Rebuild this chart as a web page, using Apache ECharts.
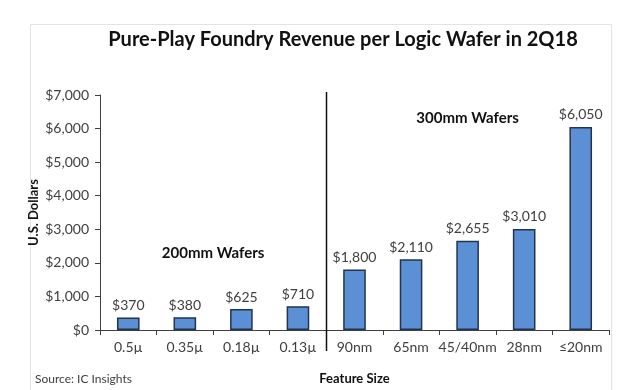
<!DOCTYPE html>
<html>
<head>
<meta charset="utf-8">
<script src="https://cdn.jsdelivr.net/npm/echarts@6/dist/echarts.min.js"></script>
<style>html,body{margin:0;padding:0;background:#fff}#c{width:640px;height:390px}</style>
</head>
<body>
<div id="c"></div>
<script>
const categories = ['0.5µ', '0.35µ', '0.18µ', '0.13µ', '90nm', '65nm', '45/40nm', '28nm', '≤20nm'];
const revenue = [370, 380, 625, 710, 1800, 2110, 2655, 3010, 6050];
const yTicks = [0, 1000, 2000, 3000, 4000, 5000, 6000, 7000];
const titleText = 'Pure-Play Foundry Revenue per Logic Wafer in 2Q18';
const groupLabels = [
  { text: '200mm Wafers', at: 1.5, value: 2300 },
  { text: '300mm Wafers', at: 6, value: 6300 }
];
const dividerBetween = [3, 4];
const sourceText = 'Source: IC Insights';

const FONT = 'Lato, "Open Sans", sans-serif';
const fmt = v => '$' + v.toLocaleString('en-US');

const chart = echarts.init(document.getElementById('c'), null, { renderer: 'canvas' });
chart.setOption({
  backgroundColor: '#ffffff',
  animation: false,
  title: {
    text: titleText,
    left: 338, top: 25, textAlign: 'center',
    textStyle: { fontFamily: FONT, fontWeight: 'bold', fontSize: 20, color: '#111' }
  },
  grid: { left: 100, right: 31, top: 95, bottom: 54 },
  xAxis: {
    type: 'category',
    data: categories,
    name: 'Feature Size',
    nameLocation: 'middle',
    nameGap: 42,
    nameMoveOverlap: false,
    nameTextStyle: { fontFamily: FONT, fontWeight: 'bold', fontSize: 13, color: '#111' },
    axisLine: { lineStyle: { color: '#404040', width: 1 } },
    axisTick: { show: true, length: 5, lineStyle: { color: '#404040' } },
    axisLabel: { interval: 0, hideOverlap: false, margin: 10, fontFamily: FONT, fontSize: 14, color: '#404040' }
  },
  yAxis: {
    type: 'value',
    min: yTicks[0], max: yTicks[yTicks.length - 1], interval: yTicks[1] - yTicks[0],
    name: 'U.S. Dollars',
    nameLocation: 'middle',
    nameRotate: 90,
    nameGap: 60,
    nameMoveOverlap: false,
    nameTextStyle: { fontFamily: FONT, fontWeight: 'bold', fontSize: 13, color: '#111' },
    axisLine: { show: true, lineStyle: { color: '#404040', width: 1 } },
    axisTick: { show: true, length: 5, lineStyle: { color: '#404040' } },
    splitLine: { show: false },
    axisLabel: { margin: 11, fontFamily: FONT, fontSize: 14, color: '#404040', formatter: fmt }
  },
  series: [{
    type: 'bar',
    data: revenue,
    barWidth: '40%',
    itemStyle: { color: '#5b91d4', borderColor: '#22344f', borderWidth: 1.5 },
    label: {
      show: true, position: 'top', distance: 5,
      fontFamily: FONT, fontSize: 14, color: '#404040',
      formatter: p => fmt(p.value)
    }
  }]
});

function addGraphics() {
  const x0 = chart.convertToPixel({ xAxisIndex: 0 }, dividerBetween[0]);
  const x1 = chart.convertToPixel({ xAxisIndex: 0 }, dividerBetween[1]);
  const xd = Math.round((x0 + x1) / 2) + 0.5;
  const yTop = chart.convertToPixel({ yAxisIndex: 0 }, yTicks[yTicks.length - 1]);
  const yBot = chart.convertToPixel({ yAxisIndex: 0 }, 0);
  const step = x1 - x0;
  const elements = [
    { type: 'rect', shape: { x: 30.5, y: 24.5, width: 581, height: 380 },
      style: { fill: 'none', stroke: '#e3e3e3', lineWidth: 1 }, z: -1 },
    { type: 'line', shape: { x1: xd, y1: yTop - 3, x2: xd, y2: yBot + 21 },
      style: { stroke: '#111', lineWidth: 1.5 }, z: 10 },
    { type: 'text', left: 35, top: 373,
      style: { text: sourceText, font: '12px ' + FONT, fill: '#404040' } }
  ];
  groupLabels.forEach(g => {
    const gx = chart.convertToPixel({ xAxisIndex: 0 }, Math.floor(g.at)) + (g.at - Math.floor(g.at)) * step;
    const gy = chart.convertToPixel({ yAxisIndex: 0 }, g.value);
    elements.push({ type: 'text', x: gx, y: gy,
      style: { text: g.text, font: 'bold 15px ' + FONT, fill: '#111', align: 'center', verticalAlign: 'middle' } });
  });
  chart.setOption({ graphic: { elements } });
}
addGraphics();
</script>
</body>
</html>
